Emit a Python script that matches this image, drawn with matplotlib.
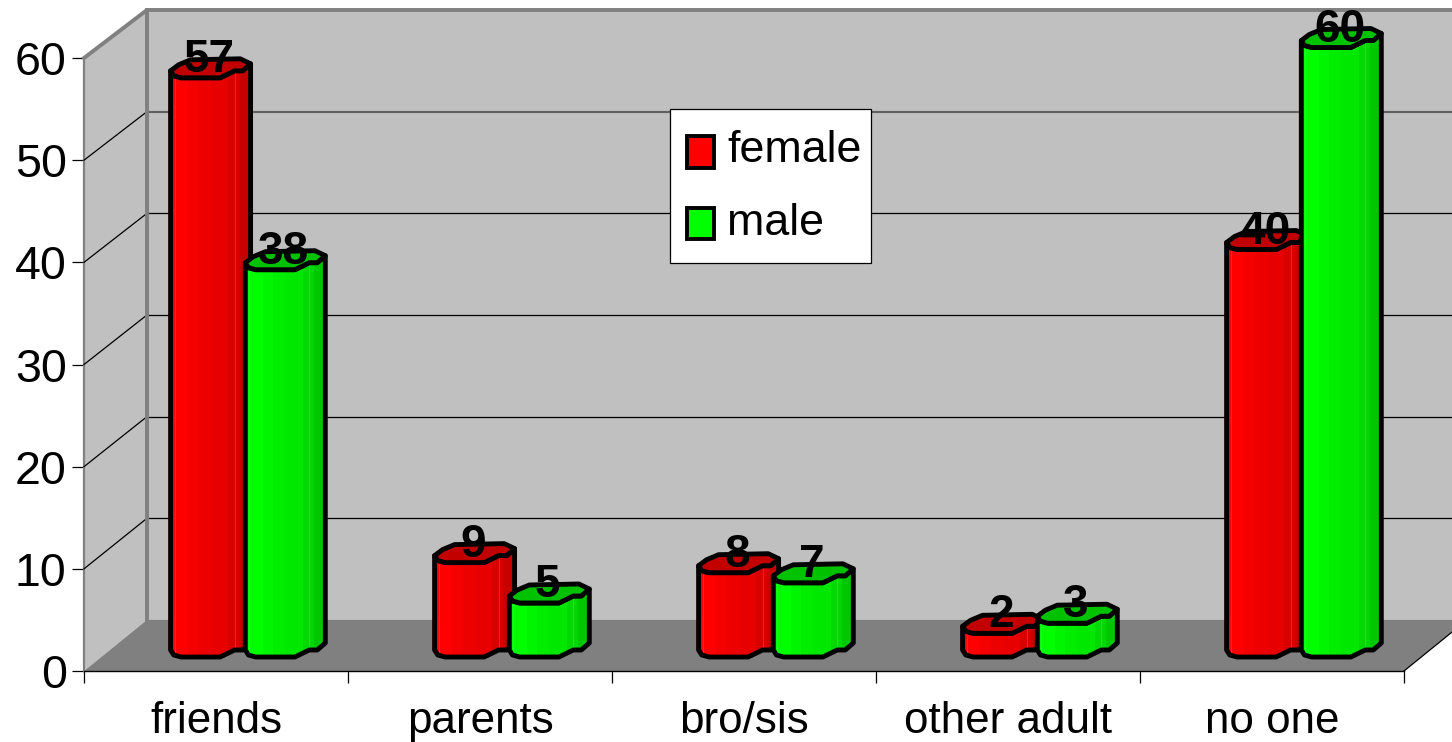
import numpy as np
import matplotlib
matplotlib.use('Agg')
import matplotlib.pyplot as plt
from matplotlib.patches import Polygon, Patch, Rectangle

plt.rcParams['font.family'] = ['Liberation Sans', 'DejaVu Sans']

categories = ['friends', 'parents', 'bro/sis', 'other adult', 'no one']
female = [57, 9, 8, 2, 40]
male = [38, 5, 7, 3, 60]
y_ticks = [0, 10, 20, 30, 40, 50, 60]

W, H = 1452, 742
FS = 31.7
fig = plt.figure(figsize=(W / 100, H / 100), dpi=100)


def ax_rect(x0, x1, y_bottom, y_top):
    return [x0 / W, 1 - y_bottom / H, (x1 - x0) / W, (y_bottom - y_top) / H]


# walls and floor, front plane of the box
wall = fig.add_axes(ax_rect(84, 1404, 671, 58))
wall.set_xlim(0, 5)
wall.set_ylim(0, 60)
wall.patch.set_visible(False)
depth_x = 63 / 264
depth_y = 5.0
back_top = 64.7

wall.add_patch(Polygon([(depth_x, depth_y), (5.4, depth_y), (5.4, back_top), (depth_x, back_top)],
                       fc='#c0c0c0', ec='none', clip_on=False, zorder=1))
wall.add_patch(Polygon([(0, 0), (depth_x, depth_y), (depth_x, back_top), (0, 60)],
                       fc='#c0c0c0', ec='none', clip_on=False, zorder=1))
wall.add_patch(Polygon([(0, 0), (depth_x, depth_y), (5 + depth_x, depth_y), (5, 0)],
                       fc='#808080', ec='none', clip_on=False, zorder=2))

for t in y_ticks[1:-1]:
    back = t * 0.995 + depth_y
    col = '#606060' if t == 50 else 'black'
    lw = 1.5 if t == 50 else 0.9
    wall.plot([depth_x, 5.4], [back, back], color=col, lw=lw, clip_on=False, zorder=3)
    wall.plot([0, depth_x], [t, back], color='black', lw=0.9, clip_on=False, zorder=3)

wall.plot([0, depth_x, 5.4], [60, back_top, back_top], color='#808080', lw=2.8, clip_on=False, zorder=4)
wall.plot([depth_x, depth_x], [depth_y, back_top], color='#808080', lw=2.8, zorder=4, clip_on=False)
wall.plot([5, 5 + depth_x], [0, depth_y], color='black', lw=0.9, clip_on=False, zorder=4)

for s in ['top', 'right']:
    wall.spines[s].set_visible(False)
wall.spines['left'].set_color('#808080')
wall.spines['left'].set_linewidth(1.6)
wall.spines['bottom'].set_linewidth(1.0)
wall.set_yticks(y_ticks)
wall.tick_params(axis='y', length=8.5, width=0.9, pad=4, labelsize=33.5)
wall.set_xticks(range(6))
wall.set_xticklabels([])
wall.tick_params(axis='x', which='major', length=8.5, width=0.9)
wall.set_xticks(np.arange(5) + 0.5, minor=True)
wall.set_xticklabels(categories, minor=True, fontsize=FS)
wall.tick_params(axis='x', which='minor', length=0, pad=21.5)

# bars live on their own plane, a bit behind the front one
bars = fig.add_axes(ax_rect(84, 1404, 653.5 + 3 * 10.1, 653.5 - 66 * 10.1))
bars.set_xlim(0, 5)
bars.set_ylim(-3, 66)
bars.axis('off')

px = 1 / 10.1
bar_w = 80 / 264
base_v = -3.5 * px
offsets = [0.328, 0.611]
edge_lw = 3.5

front_f = np.array([0, 0.04, 0.13, 0.62, 0.8, 0.9, 1.0])
front_d = np.array([7, 2, 0, 0, 7, 7, 14]) * px
back_f = np.array([1.0, 0.87, 0.25, 0.1, 0])
back_d = np.array([14, 19, 18, 13, 7]) * px

band_f = [0, 0.03, 0.22, 0.35, 0.5, 0.72, 0.86]
band_s = [0.94, 1.0, 0.96, 0.93, 0.91, 0.85, 0.78]


def shade(kind, s):
    return (s, 0, 0) if kind == 'r' else (0, s, 0)


def draw_bar(x0, value, kind, z):
    top_front = np.column_stack([x0 + front_f * bar_w, value + front_d])
    base_front = np.column_stack([x0 + front_f * bar_w, base_v + front_d])
    back = np.column_stack([x0 + back_f * bar_w, value + back_d])
    body = Polygon(np.vstack([base_front, top_front[::-1]]), closed=True, fc='none', ec='black',
                   lw=edge_lw, joinstyle='round', zorder=z + 0.1)
    bars.add_patch(body)
    for f, s in zip(band_f, band_s):
        b = bars.bar(x0 + f * bar_w, value + 3, width=(1 - f) * bar_w, bottom=-1.5, align='edge',
                     color=shade(kind, s), lw=0, zorder=z)
        b[0].set_clip_path(body)
    for f in [0.05, 0.8]:
        ln, = bars.plot([x0 + f * bar_w] * 2, [-1.5, value + 1.5], color='white', alpha=0.15,
                        lw=0.8, zorder=z + 0.05)
        ln.set_clip_path(body)
    cap = Polygon(np.vstack([top_front, back[1:-1]]), closed=True, fc=shade(kind, 0.76), ec='black',
                  lw=edge_lw, joinstyle='round', zorder=z + 0.2)
    bars.add_patch(cap)


for i in range(len(categories)):
    draw_bar(i + offsets[0], female[i], 'r', 10 + 2 * i)
    draw_bar(i + offsets[1], male[i], 'g', 11 + 2 * i)
    for off, val in zip(offsets, [female[i], male[i]]):
        bars.text(i + off + bar_w / 2 - 0.006, val + 6 * px, str(val), ha='center', va='baseline',
                  fontsize=33, fontweight='bold', color='black', zorder=100)

# legend box drawn apart, the padding in it is not even
bars.add_patch(Rectangle((670 / W, 1 - 263 / H), 201 / W, 154 / H, transform=fig.transFigure,
                         fc='white', ec='black', lw=0.9, clip_on=False, zorder=199))
leg = bars.legend(handles=[Patch(fc='#ff0000', ec='black', lw=2.8, joinstyle='miter', label='female'),
                           Patch(fc='#00ff00', ec='black', lw=2.8, joinstyle='miter', label='male')],
                  loc='upper left', bbox_to_anchor=(687 / W, 1 - 130 / H),
                  bbox_transform=fig.transFigure, fontsize=32.2, frameon=False,
                  borderaxespad=0, borderpad=0, handlelength=0.6,
                  handleheight=0.7, handletextpad=0.3, labelspacing=0.72)
leg.set_zorder(200)
# swatches sit a little lower than the text
for p, shift in zip(leg.get_patches(), [4.0, 3.0]):
    p.set_y(p.get_y() - shift)

plt.savefig('out.png', dpi=100)
